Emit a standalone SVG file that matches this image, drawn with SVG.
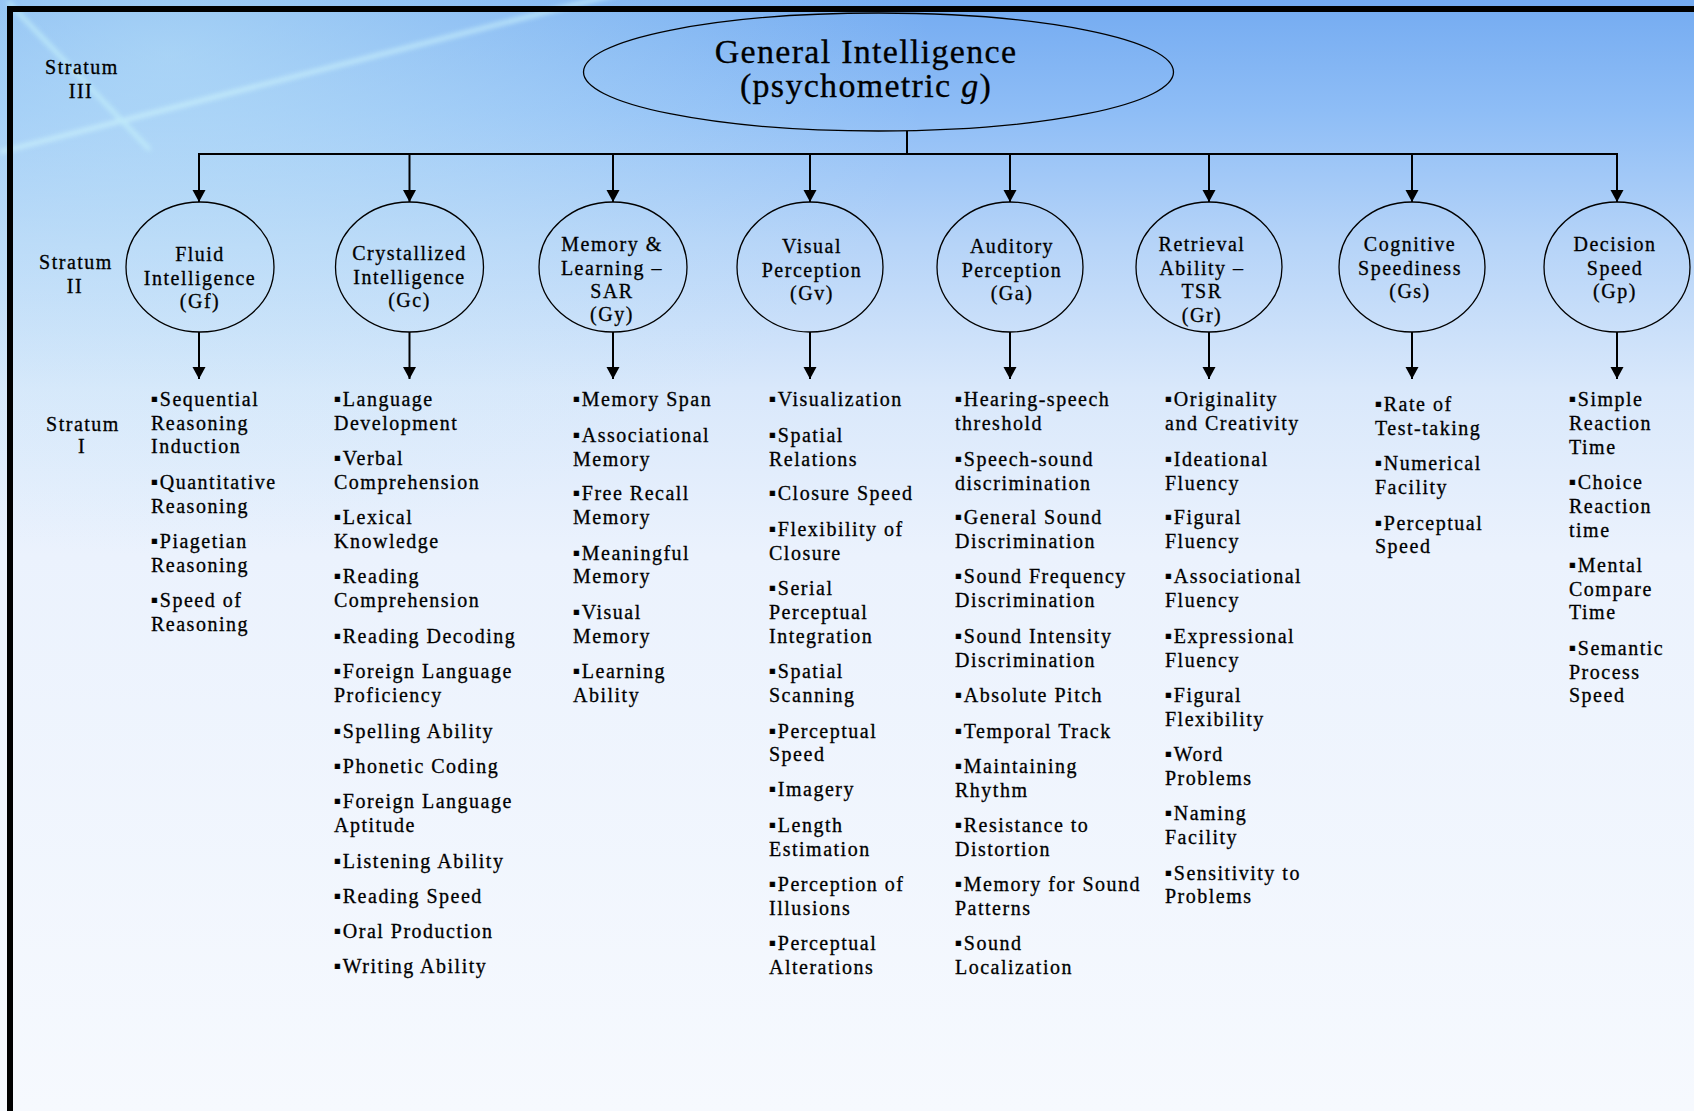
<svg xmlns="http://www.w3.org/2000/svg" width="1694" height="1111" viewBox="0 0 1694 1111" font-family="Liberation Serif, Times New Roman, serif">
<defs>
  <linearGradient id="bg" x1="0" y1="0" x2="0" y2="1">
    <stop offset="0" stop-color="#74abf1"/>
    <stop offset="0.1" stop-color="#8ebdf6"/>
    <stop offset="0.22" stop-color="#b6d4f8"/>
    <stop offset="0.35" stop-color="#d9e8fb"/>
    <stop offset="0.5" stop-color="#ebf2fd"/>
    <stop offset="1" stop-color="#f6f9fe"/>
  </linearGradient>
  <radialGradient id="glow" cx="0.1" cy="0.05" r="0.45">
    <stop offset="0" stop-color="#c8ecf8" stop-opacity="0.55"/>
    <stop offset="1" stop-color="#c8ecf8" stop-opacity="0"/>
  </radialGradient>
  <filter id="soft" x="-10%" y="-10%" width="120%" height="120%">
    <feGaussianBlur stdDeviation="2.5"/>
  </filter>
  <marker id="arrow" markerUnits="userSpaceOnUse" markerWidth="14" markerHeight="14" refX="12" refY="6.5" orient="auto">
    <path d="M0,0 L12,6.5 L0,13 Z" fill="#000"/>
  </marker>
</defs>
<style>
  text { font-family: "Liberation Serif", serif; }
  .t { font-size: 20px; letter-spacing: 1.5px; fill: #000; stroke: #000; stroke-width: 0.3px; }
  .c { text-anchor: middle; }
  .title { font-size: 34px; letter-spacing: 1.3px; fill: #000; stroke: #000; stroke-width: 0.3px; text-anchor: middle; }
  .b { font-family: "DejaVu Sans", sans-serif; font-size: 10px; letter-spacing: 2px; }
  .shape { fill: none; stroke: #000; stroke-width: 1.3; }
  .conn line, .conn path { stroke: #000; stroke-width: 2; fill: none; }
</style>

<!-- background -->
<rect x="0" y="0" width="1694" height="1111" fill="url(#bg)"/>
<rect x="0" y="0" width="1694" height="1111" fill="url(#glow)"/>
<g filter="url(#soft)" opacity="0.75">
  <line x1="0" y1="152" x2="640" y2="-12" stroke="#d0f6fc" stroke-width="4"/>
  <line x1="8" y1="2" x2="150" y2="150" stroke="#c6f2fa" stroke-width="4"/>
</g>
<!-- frame -->
<rect x="7" y="6" width="1687" height="6" fill="#000"/>
<rect x="7" y="6" width="6" height="1105" fill="#000"/>

<!-- stratum labels -->
<g id="stratum-labels" class="t c">
  <text x="82" y="74">Stratum</text>
  <text x="81" y="98">III</text>
  <text x="76" y="269">Stratum</text>
  <text x="75" y="293">II</text>
  <text x="83" y="431">Stratum</text>
  <text x="82" y="453">I</text>
</g>

<!-- connectors -->
<g id="connectors" class="conn">
  <line x1="907" y1="131" x2="907" y2="154"/>
  <path d="M199,202 V154 H1617 V202" marker-end="url(#arrow)"/>
  <line x1="199" y1="154" x2="199" y2="202" marker-end="url(#arrow)"/>
  <line x1="409.5" y1="154" x2="409.5" y2="202" marker-end="url(#arrow)"/>
  <line x1="613" y1="154" x2="613" y2="202" marker-end="url(#arrow)"/>
  <line x1="810" y1="154" x2="810" y2="202" marker-end="url(#arrow)"/>
  <line x1="1010" y1="154" x2="1010" y2="202" marker-end="url(#arrow)"/>
  <line x1="1209" y1="154" x2="1209" y2="202" marker-end="url(#arrow)"/>
  <line x1="1412" y1="154" x2="1412" y2="202" marker-end="url(#arrow)"/>
  <line x1="199" y1="332" x2="199" y2="379" marker-end="url(#arrow)"/>
  <line x1="409.5" y1="332" x2="409.5" y2="379" marker-end="url(#arrow)"/>
  <line x1="613" y1="332" x2="613" y2="379" marker-end="url(#arrow)"/>
  <line x1="810" y1="332" x2="810" y2="379" marker-end="url(#arrow)"/>
  <line x1="1010" y1="332" x2="1010" y2="379" marker-end="url(#arrow)"/>
  <line x1="1209" y1="332" x2="1209" y2="379" marker-end="url(#arrow)"/>
  <line x1="1412" y1="332" x2="1412" y2="379" marker-end="url(#arrow)"/>
  <line x1="1617" y1="332" x2="1617" y2="379" marker-end="url(#arrow)"/>
</g>

<!-- stratum III -->
<g id="node-g">
  <ellipse class="shape" cx="878.5" cy="72" rx="295" ry="59"/>
  <text class="title" x="866" y="63">General Intelligence</text>
  <text class="title" x="866" y="97">(psychometric <tspan font-style="italic">g</tspan>)</text>
</g>

<!-- stratum II -->
<g id="node-gf">
  <ellipse class="shape" cx="200" cy="267" rx="74" ry="65"/>
  <text class="t c" x="200" y="261">Fluid</text>
  <text class="t c" x="200" y="285">Intelligence</text>
  <text class="t c" x="200" y="308">(Gf)</text>
</g>
<g id="node-gc">
  <ellipse class="shape" cx="409.5" cy="267" rx="74" ry="65"/>
  <text class="t c" x="409.5" y="260">Crystallized</text>
  <text class="t c" x="409.5" y="284">Intelligence</text>
  <text class="t c" x="409.5" y="307">(Gc)</text>
</g>
<g id="node-gy">
  <ellipse class="shape" cx="613" cy="267" rx="74" ry="65"/>
  <text class="t c" x="612" y="251">Memory &amp;</text>
  <text class="t c" x="612" y="275">Learning –</text>
  <text class="t c" x="612" y="298">SAR</text>
  <text class="t c" x="612" y="321">(Gy)</text>
</g>
<g id="node-gv">
  <ellipse class="shape" cx="810" cy="267" rx="73" ry="65"/>
  <text class="t c" x="812" y="253">Visual</text>
  <text class="t c" x="812" y="277">Perception</text>
  <text class="t c" x="812" y="300">(Gv)</text>
</g>
<g id="node-ga">
  <ellipse class="shape" cx="1010" cy="267" rx="73" ry="65"/>
  <text class="t c" x="1012" y="253">Auditory</text>
  <text class="t c" x="1012" y="277">Perception</text>
  <text class="t c" x="1012" y="300">(Ga)</text>
</g>
<g id="node-gr">
  <ellipse class="shape" cx="1209" cy="267" rx="73" ry="65"/>
  <text class="t c" x="1202" y="251">Retrieval</text>
  <text class="t c" x="1202" y="275">Ability –</text>
  <text class="t c" x="1202" y="298">TSR</text>
  <text class="t c" x="1202" y="322">(Gr)</text>
</g>
<g id="node-gs">
  <ellipse class="shape" cx="1412" cy="267" rx="73" ry="65"/>
  <text class="t c" x="1410" y="251">Cognitive</text>
  <text class="t c" x="1410" y="275">Speediness</text>
  <text class="t c" x="1410" y="298">(Gs)</text>
</g>
<g id="node-gp">
  <ellipse class="shape" cx="1617" cy="267" rx="73" ry="65"/>
  <text class="t c" x="1615" y="251">Decision</text>
  <text class="t c" x="1615" y="275">Speed</text>
  <text class="t c" x="1615" y="298">(Gp)</text>
</g>

<!-- stratum I lists -->
<g id="list-gf" class="t">
  <text x="151" y="406"><tspan class="b" baseline-shift="4">▪</tspan>Sequential</text>
  <text x="151" y="430">Reasoning</text>
  <text x="151" y="453">Induction</text>
  <text x="151" y="489"><tspan class="b" baseline-shift="4">▪</tspan>Quantitative</text>
  <text x="151" y="513">Reasoning</text>
  <text x="151" y="548"><tspan class="b" baseline-shift="4">▪</tspan>Piagetian</text>
  <text x="151" y="572">Reasoning</text>
  <text x="151" y="607"><tspan class="b" baseline-shift="4">▪</tspan>Speed of</text>
  <text x="151" y="631">Reasoning</text>
</g>
<g id="list-gc" class="t">
  <text x="334" y="406"><tspan class="b" baseline-shift="4">▪</tspan>Language</text>
  <text x="334" y="430">Development</text>
  <text x="334" y="465"><tspan class="b" baseline-shift="4">▪</tspan>Verbal</text>
  <text x="334" y="489">Comprehension</text>
  <text x="334" y="524"><tspan class="b" baseline-shift="4">▪</tspan>Lexical</text>
  <text x="334" y="548">Knowledge</text>
  <text x="334" y="583"><tspan class="b" baseline-shift="4">▪</tspan>Reading</text>
  <text x="334" y="607">Comprehension</text>
  <text x="334" y="643"><tspan class="b" baseline-shift="4">▪</tspan>Reading Decoding</text>
  <text x="334" y="678"><tspan class="b" baseline-shift="4">▪</tspan>Foreign Language</text>
  <text x="334" y="702">Proficiency</text>
  <text x="334" y="738"><tspan class="b" baseline-shift="4">▪</tspan>Spelling Ability</text>
  <text x="334" y="773"><tspan class="b" baseline-shift="4">▪</tspan>Phonetic Coding</text>
  <text x="334" y="808"><tspan class="b" baseline-shift="4">▪</tspan>Foreign Language</text>
  <text x="334" y="832">Aptitude</text>
  <text x="334" y="868"><tspan class="b" baseline-shift="4">▪</tspan>Listening Ability</text>
  <text x="334" y="903"><tspan class="b" baseline-shift="4">▪</tspan>Reading Speed</text>
  <text x="334" y="938"><tspan class="b" baseline-shift="4">▪</tspan>Oral Production</text>
  <text x="334" y="973"><tspan class="b" baseline-shift="4">▪</tspan>Writing Ability</text>
</g>
<g id="list-gy" class="t">
  <text x="573" y="406"><tspan class="b" baseline-shift="4">▪</tspan>Memory Span</text>
  <text x="573" y="442"><tspan class="b" baseline-shift="4">▪</tspan>Associational</text>
  <text x="573" y="466">Memory</text>
  <text x="573" y="500"><tspan class="b" baseline-shift="4">▪</tspan>Free Recall</text>
  <text x="573" y="524">Memory</text>
  <text x="573" y="560"><tspan class="b" baseline-shift="4">▪</tspan>Meaningful</text>
  <text x="573" y="583">Memory</text>
  <text x="573" y="619"><tspan class="b" baseline-shift="4">▪</tspan>Visual</text>
  <text x="573" y="643">Memory</text>
  <text x="573" y="678"><tspan class="b" baseline-shift="4">▪</tspan>Learning</text>
  <text x="573" y="702">Ability</text>
</g>
<g id="list-gv" class="t">
  <text x="769" y="406"><tspan class="b" baseline-shift="4">▪</tspan>Visualization</text>
  <text x="769" y="442"><tspan class="b" baseline-shift="4">▪</tspan>Spatial</text>
  <text x="769" y="466">Relations</text>
  <text x="769" y="500"><tspan class="b" baseline-shift="4">▪</tspan>Closure Speed</text>
  <text x="769" y="536"><tspan class="b" baseline-shift="4">▪</tspan>Flexibility of</text>
  <text x="769" y="560">Closure</text>
  <text x="769" y="595"><tspan class="b" baseline-shift="4">▪</tspan>Serial</text>
  <text x="769" y="619">Perceptual</text>
  <text x="769" y="643">Integration</text>
  <text x="769" y="678"><tspan class="b" baseline-shift="4">▪</tspan>Spatial</text>
  <text x="769" y="702">Scanning</text>
  <text x="769" y="738"><tspan class="b" baseline-shift="4">▪</tspan>Perceptual</text>
  <text x="769" y="761">Speed</text>
  <text x="769" y="796"><tspan class="b" baseline-shift="4">▪</tspan>Imagery</text>
  <text x="769" y="832"><tspan class="b" baseline-shift="4">▪</tspan>Length</text>
  <text x="769" y="856">Estimation</text>
  <text x="769" y="891"><tspan class="b" baseline-shift="4">▪</tspan>Perception of</text>
  <text x="769" y="915">Illusions</text>
  <text x="769" y="950"><tspan class="b" baseline-shift="4">▪</tspan>Perceptual</text>
  <text x="769" y="974">Alterations</text>
</g>
<g id="list-ga" class="t">
  <text x="955" y="406"><tspan class="b" baseline-shift="4">▪</tspan>Hearing-speech</text>
  <text x="955" y="430">threshold</text>
  <text x="955" y="466"><tspan class="b" baseline-shift="4">▪</tspan>Speech-sound</text>
  <text x="955" y="490">discrimination</text>
  <text x="955" y="524"><tspan class="b" baseline-shift="4">▪</tspan>General Sound</text>
  <text x="955" y="548">Discrimination</text>
  <text x="955" y="583"><tspan class="b" baseline-shift="4">▪</tspan>Sound Frequency</text>
  <text x="955" y="607">Discrimination</text>
  <text x="955" y="643"><tspan class="b" baseline-shift="4">▪</tspan>Sound Intensity</text>
  <text x="955" y="667">Discrimination</text>
  <text x="955" y="702"><tspan class="b" baseline-shift="4">▪</tspan>Absolute Pitch</text>
  <text x="955" y="738"><tspan class="b" baseline-shift="4">▪</tspan>Temporal Track</text>
  <text x="955" y="773"><tspan class="b" baseline-shift="4">▪</tspan>Maintaining</text>
  <text x="955" y="797">Rhythm</text>
  <text x="955" y="832"><tspan class="b" baseline-shift="4">▪</tspan>Resistance to</text>
  <text x="955" y="856">Distortion</text>
  <text x="955" y="891"><tspan class="b" baseline-shift="4">▪</tspan>Memory for Sound</text>
  <text x="955" y="915">Patterns</text>
  <text x="955" y="950"><tspan class="b" baseline-shift="4">▪</tspan>Sound</text>
  <text x="955" y="974">Localization</text>
</g>
<g id="list-gr" class="t">
  <text x="1165" y="406"><tspan class="b" baseline-shift="4">▪</tspan>Originality</text>
  <text x="1165" y="430">and Creativity</text>
  <text x="1165" y="466"><tspan class="b" baseline-shift="4">▪</tspan>Ideational</text>
  <text x="1165" y="490">Fluency</text>
  <text x="1165" y="524"><tspan class="b" baseline-shift="4">▪</tspan>Figural</text>
  <text x="1165" y="548">Fluency</text>
  <text x="1165" y="583"><tspan class="b" baseline-shift="4">▪</tspan>Associational</text>
  <text x="1165" y="607">Fluency</text>
  <text x="1165" y="643"><tspan class="b" baseline-shift="4">▪</tspan>Expressional</text>
  <text x="1165" y="667">Fluency</text>
  <text x="1165" y="702"><tspan class="b" baseline-shift="4">▪</tspan>Figural</text>
  <text x="1165" y="726">Flexibility</text>
  <text x="1165" y="761"><tspan class="b" baseline-shift="4">▪</tspan>Word</text>
  <text x="1165" y="785">Problems</text>
  <text x="1165" y="820"><tspan class="b" baseline-shift="4">▪</tspan>Naming</text>
  <text x="1165" y="844">Facility</text>
  <text x="1165" y="880"><tspan class="b" baseline-shift="4">▪</tspan>Sensitivity to</text>
  <text x="1165" y="903">Problems</text>
</g>
<g id="list-gs" class="t">
  <text x="1375" y="411"><tspan class="b" baseline-shift="4">▪</tspan>Rate of</text>
  <text x="1375" y="435">Test-taking</text>
  <text x="1375" y="470"><tspan class="b" baseline-shift="4">▪</tspan>Numerical</text>
  <text x="1375" y="494">Facility</text>
  <text x="1375" y="530"><tspan class="b" baseline-shift="4">▪</tspan>Perceptual</text>
  <text x="1375" y="553">Speed</text>
</g>
<g id="list-gp" class="t">
  <text x="1569" y="406"><tspan class="b" baseline-shift="4">▪</tspan>Simple</text>
  <text x="1569" y="430">Reaction</text>
  <text x="1569" y="454">Time</text>
  <text x="1569" y="489"><tspan class="b" baseline-shift="4">▪</tspan>Choice</text>
  <text x="1569" y="513">Reaction</text>
  <text x="1569" y="537">time</text>
  <text x="1569" y="572"><tspan class="b" baseline-shift="4">▪</tspan>Mental</text>
  <text x="1569" y="596">Compare</text>
  <text x="1569" y="619">Time</text>
  <text x="1569" y="655"><tspan class="b" baseline-shift="4">▪</tspan>Semantic</text>
  <text x="1569" y="679">Process</text>
  <text x="1569" y="702">Speed</text>
</g>
</svg>
